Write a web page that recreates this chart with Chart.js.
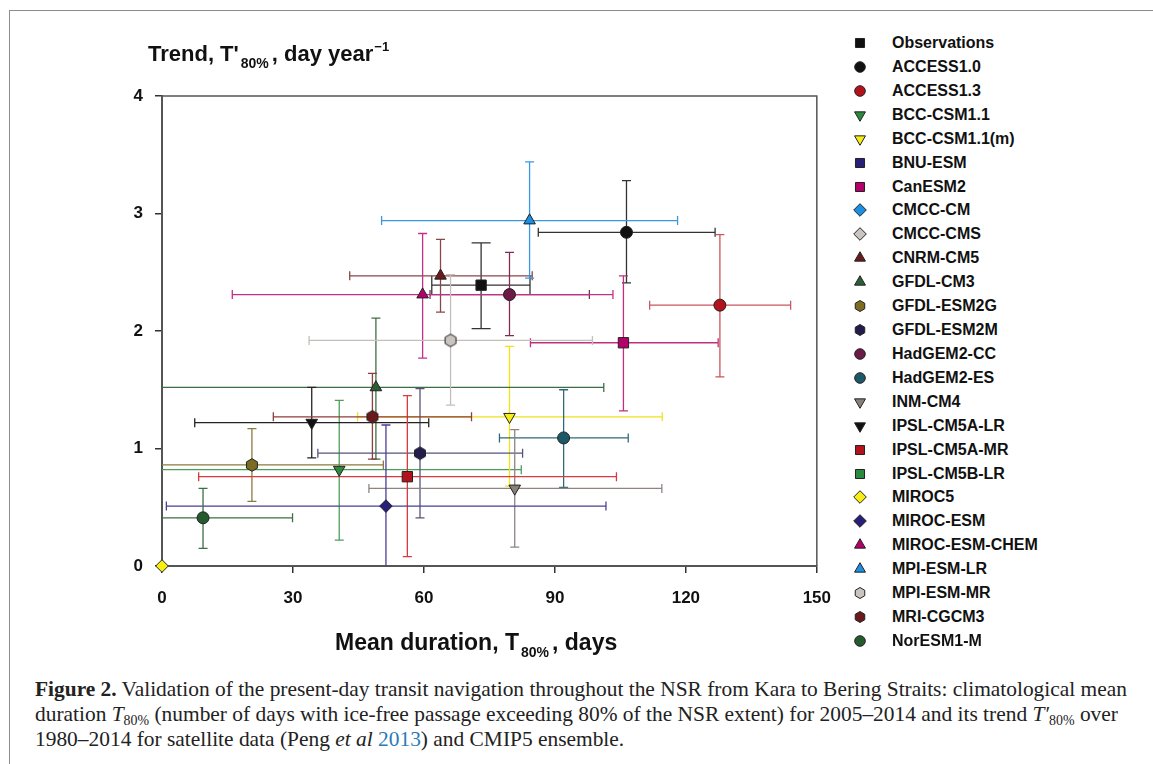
<!DOCTYPE html>
<html>
<head>
<meta charset="utf-8">
<script src="https://cdn.jsdelivr.net/npm/chart.js@4.4.1/dist/chart.umd.min.js"></script>
<style>
  html, body { margin: 0; padding: 0; background: #fff; }
  body { width: 1153px; height: 764px; position: relative; overflow: hidden; font-family: "Liberation Sans", Arial, sans-serif; }
  #frame { position: absolute; left: 9px; top: 10px; width: 1200px; height: 800px; border-top: 1.5px solid #8c8c8c; border-left: 1.5px solid #8c8c8c; }
  #wrap { position: absolute; left: 0; top: 0; width: 846px; height: 630px; }
  .axis-title { position: absolute; font-weight: bold; font-size: 22px; color: #111; white-space: nowrap; line-height: 22px; }
  .axis-title .sub { font-size: 14px; position: relative; top: 7px; margin: 0 3px 0 2px; }
  .axis-title .sup { font-size: 13px; position: relative; top: -10px; margin-left: 1px; }
  .leg { position: absolute; left: 0; height: 24px; width: 300px; }
  .leg canvas { position: absolute; left: 852px; top: 4px; }
  .leg span { position: absolute; left: 892px; top: 0; line-height: 24px; font-size: 16px; font-weight: bold; color: #111; white-space: nowrap; }
  #caption { position: absolute; left: 35px; top: 677px; font-family: "Liberation Serif", "Times New Roman", serif; color: #222; font-size: 19px; }
  #caption div { white-space: nowrap; height: 25px; line-height: 25px; }
  #caption sub { font-size: 0.65em; vertical-align: -0.3em; line-height: 0; }
  #caption .ref { color: #2a7ab8; }
</style>
</head>
<body>
<div id="frame"></div>
<div id="wrap"><canvas id="chart" width="846" height="630"></canvas></div>
<div class="axis-title" style="left:148px; top:43px;">Trend, T'<span class="sub">80%</span>, day year<span class="sup">&minus;1</span></div>
<div class="axis-title" style="left:335px; top:631px; font-size:23px;">Mean duration, T<span class="sub">80%</span>, days</div>
<div id="legend"></div>
<div id="caption">
  <div><b>Figure 2.</b> Validation of the present-day transit navigation throughout the NSR from Kara to Bering Straits: climatological mean</div>
  <div>duration <i>T</i><sub>80%</sub> (number of days with ice-free passage exceeding 80% of the NSR extent) for 2005–2014 and its trend <i>T&prime;</i><sub>80%</sub> over</div>
  <div>1980–2014 for satellite data (Peng <i>et al</i> <span class="ref">2013</span>) and CMIP5 ensemble.</div>
</div>
<script>
// data (null = not plotted)
const modelNames = ["Observations", "ACCESS1.0", "ACCESS1.3", "BCC-CSM1.1", "BCC-CSM1.1(m)", "BNU-ESM",
    "CanESM2", "CMCC-CM", "CMCC-CMS", "CNRM-CM5", "GFDL-CM3", "GFDL-ESM2G", "GFDL-ESM2M",
    "HadGEM2-CC", "HadGEM2-ES", "INM-CM4", "IPSL-CM5A-LR", "IPSL-CM5A-MR", "IPSL-CM5B-LR",
    "MIROC5", "MIROC-ESM", "MIROC-ESM-CHEM", "MPI-ESM-LR", "MPI-ESM-MR", "MRI-CGCM3", "NorESM1-M"];

const meanDuration = [73.1, 106.4, 127.8, 40.6, 79.6, null, 105.7, null, null, 63.8, 49.0, 20.6, 59.1,
    79.6, 92.0, 80.8, 34.3, 56.2, null, 0, 51.3, 59.7, 84.2, 66.1, 48.2, 9.4];
const durationLow = [61.8, 86.2, 111.7, -1.1, 44.8, null, 84.4, null, null, 43.0, -3.2, -9.5, 35.7,
    61.4, 77.3, 47.4, 7.5, 8.4, null, null, 1.0, 16.1, 50.3, 33.7, 25.5, -11.1];
const durationHigh = [84.3, 126.7, 144.0, 82.3, 114.6, null, 127.4, null, null, 84.8, 101.2, 50.7, 82.6,
    97.9, 106.8, 114.5, 61.1, 104.1, null, null, 101.7, 103.3, 118.1, 98.6, 70.9, 29.9];

const trend = [2.39, 2.84, 2.22, 0.82, 1.27, null, 1.90, null, null, 2.47, 1.52, 0.86, 0.96,
    2.31, 1.09, 0.66, 1.22, 0.76, null, 0, 0.51, 2.31, 2.94, 1.92, 1.27, 0.41];
const trendLow = [2.02, 2.41, 1.61, 0.22, 0.68, null, 1.32, null, null, 2.16, 0.91, 0.55, 0.41,
    1.96, 0.67, 0.16, 0.92, 0.08, null, null, -0.19, 1.77, 2.45, 1.37, 0.91, 0.15];
const trendHigh = [2.75, 3.28, 2.82, 1.41, 1.87, null, 2.47, null, null, 2.78, 2.11, 1.17, 1.51,
    2.67, 1.50, 1.16, 1.52, 1.45, null, null, 1.20, 2.83, 3.44, 2.48, 1.64, 0.66];

const xTicks = [0, 30, 60, 90, 120, 150];
const yTicks = [0, 1, 2, 3, 4];

// styles
const markerShape = ["rect", "circle", "circle", "down", "down", "rect",
    "rect", "diamond", "diamond", "up", "up", "hex", "hex",
    "circle", "circle", "down", "down", "rect", "rect",
    "diamond", "diamond", "up", "up", "hex", "hex", "circle"];
const markerColor = ["#111111", "#111111", "#b3121c", "#2b8a3c", "#f7ef14", "#27207a",
    "#b3006b", "#1c8fe3", "#c9c4bf", "#6b1a1c", "#2a5e35", "#7d6b22", "#221d4d",
    "#6d1a46", "#1c5868", "#8a807a", "#111111", "#b3121c", "#2b8a3c",
    "#f7ef14", "#27207a", "#b3006b", "#1c8fe3", "#c9c4bf", "#6b1a1c", "#245a2e"];
const barColor = ["#333333", "#333333", "#c9575d", "#4e9e5c", "#f0e21a", "#27207a",
    "#c0307e", "#2a8fdc", "#c0bbb5", "#85494a", "#3c6e46", "#8c7b3e", "#55557a",
    "#7e2d55", "#2f6a78", "#8e8580", "#222222", "#d83a3f", "#4ea35a",
    "#f0e21a", "#4a3f96", "#c2308a", "#3a98e0", "#c4bfba", "#8e3e3e", "#3d6e45"];

function makeHexagon(fill, r) {
    const c = document.createElement("canvas");
    const s = Math.ceil(2 * r + 3);
    c.width = s;
    c.height = s;
    const g = c.getContext("2d");
    g.beginPath();
    for (let k = 0; k < 6; k++) {
        const a = -Math.PI / 2 + k * Math.PI / 3;
        const px = s / 2 + r * Math.cos(a);
        const py = s / 2 + r * Math.sin(a);
        if (k === 0) g.moveTo(px, py); else g.lineTo(px, py);
    }
    g.closePath();
    g.fillStyle = fill;
    g.fill();
    g.lineWidth = 1;
    g.strokeStyle = "#222";
    g.stroke();
    return c;
}

function pointOpts(i, small) {
    const shape = markerShape[i];
    if (shape === "circle") return { pointStyle: "circle", radius: small ? 5.3 : 6, rotation: 0 };
    if (shape === "rect") return { pointStyle: "rect", radius: small ? 6.4 : 7.3, rotation: 0 };
    if (shape === "diamond") return { pointStyle: "rectRot", radius: small ? 6.3 : 6.3, rotation: 0 };
    if (shape === "up") return { pointStyle: "triangle", radius: small ? 6.3 : 6.7, rotation: 0 };
    if (shape === "down") return { pointStyle: "triangle", radius: small ? 6.3 : 6.7, rotation: 180 };
    return { pointStyle: makeHexagon(markerColor[i], small ? 5.5 : 6.3), radius: 6, rotation: 0 };
}

const datasets = modelNames.map(function (name, i) {
    const p = pointOpts(i, false);
    const pts = meanDuration[i] === null ? [] : [{ x: meanDuration[i], y: trend[i] }];
    return {
        label: name,
        data: pts,
        pointStyle: p.pointStyle,
        pointRotation: p.rotation,
        pointRadius: p.radius,
        backgroundColor: markerColor[i],
        borderColor: "#222",
        borderWidth: 1,
        clip: false,
        order: name === "MIROC5" ? -1 : 0,
    };
});

const errorBars = {
    id: "errorBars",
    beforeDatasetsDraw(chart) {
        const c = chart.ctx;
        const xs = chart.scales.x;
        const ys = chart.scales.y;
        const a = chart.chartArea;
        c.save();
        c.beginPath();
        c.rect(a.left, a.top, a.right - a.left, a.bottom - a.top);
        c.clip();
        c.lineWidth = 1.3;
        modelNames.forEach(function (name, i) {
            if (durationLow[i] === null) return;
            const cap = name === "Observations" ? 9.5 : 4.5;
            const px = xs.getPixelForValue(meanDuration[i]);
            const py = ys.getPixelForValue(trend[i]);
            const x0 = xs.getPixelForValue(durationLow[i]);
            const x1 = xs.getPixelForValue(durationHigh[i]);
            const y0 = ys.getPixelForValue(trendLow[i]);
            const y1 = ys.getPixelForValue(trendHigh[i]);
            c.strokeStyle = barColor[i];
            c.beginPath();
            c.moveTo(x0, py); c.lineTo(x1, py);
            c.moveTo(x0, py - cap); c.lineTo(x0, py + cap);
            c.moveTo(x1, py - cap); c.lineTo(x1, py + cap);
            c.moveTo(px, y0); c.lineTo(px, y1);
            c.moveTo(px - cap, y0); c.lineTo(px + cap, y0);
            c.moveTo(px - cap, y1); c.lineTo(px + cap, y1);
            c.stroke();
        });
        c.restore();
    },
    afterDraw(chart) {
        // top and right sides of the plot box
        const c = chart.ctx;
        const a = chart.chartArea;
        c.save();
        c.strokeStyle = "#555";
        c.lineWidth = 1.5;
        c.beginPath();
        c.moveTo(a.left, a.top); c.lineTo(a.right, a.top); c.lineTo(a.right, a.bottom);
        c.stroke();
        c.restore();
    },
};

const tickFont = { family: "'Liberation Sans', Arial, sans-serif", size: 17, weight: "bold" };

new Chart(document.getElementById("chart"), {
    type: "scatter",
    data: { datasets: datasets },
    options: {
        responsive: false,
        animation: false,
        layout: { padding: { left: 122, top: 96, right: 14, bottom: 14 } },
        plugins: { legend: { display: false }, tooltip: { enabled: false } },
        scales: {
            x: {
                type: "linear",
                min: xTicks[0],
                max: xTicks[xTicks.length - 1],
                afterBuildTicks: (s) => { s.ticks = xTicks.map((v) => ({ value: v })); },
                ticks: { font: tickFont, color: "#111", padding: 15, maxRotation: 0 },
                grid: { drawOnChartArea: false, tickLength: 7, color: "#333", lineWidth: 1.5 },
                border: { color: "#555", width: 2 },
                afterFit: (s) => { s.height = 50; },
            },
            y: {
                type: "linear",
                min: yTicks[0],
                max: yTicks[yTicks.length - 1],
                afterBuildTicks: (s) => { s.ticks = yTicks.map((v) => ({ value: v })); },
                ticks: { font: tickFont, color: "#111", padding: 12 },
                grid: { drawOnChartArea: false, tickLength: 7, color: "#333", lineWidth: 1.5 },
                border: { color: "#555", width: 2 },
                afterFit: (s) => { s.width = 40; },
            },
        },
    },
    plugins: [errorBars],
});

// legend
const legend = document.getElementById("legend");
modelNames.forEach(function (name, i) {
    const row = document.createElement("div");
    row.className = "leg";
    row.style.top = (43 - 12 + i * 23.92) + "px";
    const cv = document.createElement("canvas");
    cv.width = 16;
    cv.height = 16;
    const g = cv.getContext("2d");
    const p = pointOpts(i, true);
    g.fillStyle = markerColor[i];
    g.strokeStyle = "#222";
    g.lineWidth = 1;
    Chart.helpers.drawPoint(g, { pointStyle: p.pointStyle, rotation: p.rotation, radius: p.radius, borderWidth: 1 }, 8, 8);
    const sp = document.createElement("span");
    sp.textContent = name;
    row.appendChild(cv);
    row.appendChild(sp);
    legend.appendChild(row);
});

// fit the caption's first line to the printed width
const cap = document.getElementById("caption");
const first = cap.firstElementChild;
const w = first.getBoundingClientRect().width;
cap.style.fontSize = (19 * 1093 / w) + "px";
</script>
</body>
</html>
